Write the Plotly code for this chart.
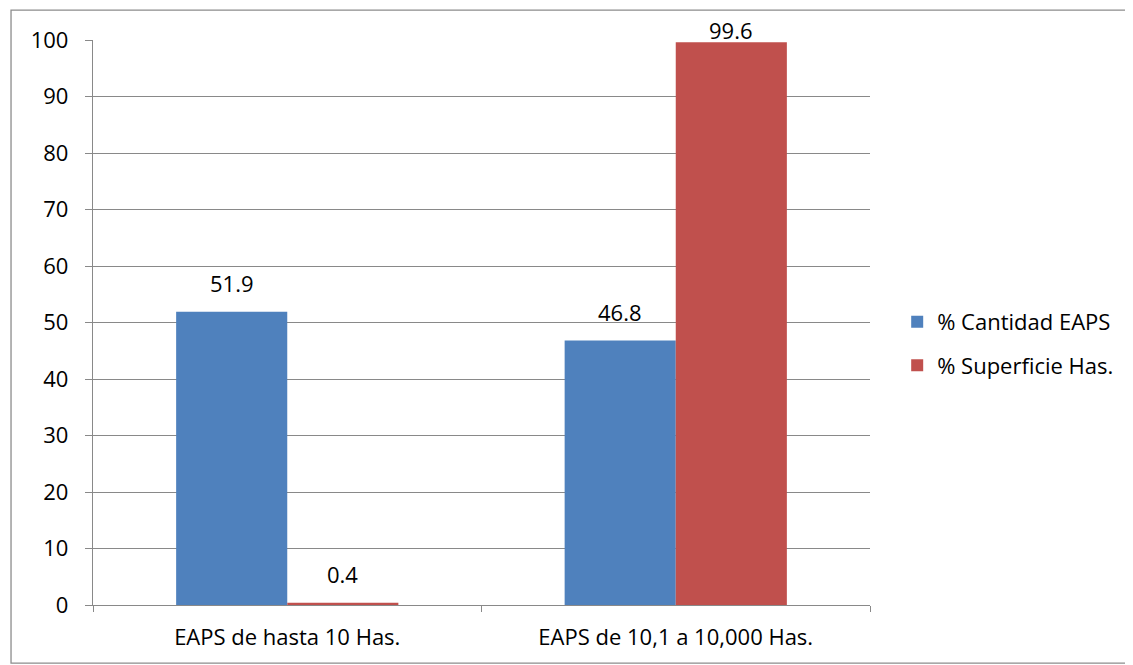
import plotly.graph_objects as go

categories = ["EAPS de hasta 10 Has.", "EAPS de 10,1 a 10,000 Has."]
cantidad = [51.9, 46.8]
superficie = [0.4, 99.6]
series_names = ["% Cantidad EAPS", "% Superficie Has."]
y_ticks = [0, 10, 20, 30, 40, 50, 60, 70, 80, 90, 100]

font_family = "Open Sans, Liberation Sans, sans-serif"
grid_col = "#898989"
colors = ["#4F81BD", "#C0504D"]

fig = go.Figure()
for i, (name, vals) in enumerate(zip(series_names, [cantidad, superficie])):
    fig.add_trace(go.Bar(x=categories, y=vals, name=name, legendgroup=name,
                         marker=dict(color=colors[i], line=dict(width=0))))
    # data labels
    for cat, v in zip(categories, vals):
        fig.add_annotation(x=cat, y=v, xref="x", yref="y",
                           text=f"{v:.1f}", showarrow=False,
                           xshift=(-55.5 if i == 0 else 55.5),
                           yanchor="bottom", yshift=(12 if v <= 90 else -5),
                           font=dict(size=22, color="black"))

fig.update_layout(
    width=1125, height=657,
    margin=dict(l=85, r=263, t=32, b=60),
    paper_bgcolor="white", plot_bgcolor="white",
    font=dict(family=font_family, size=22, color="black"),
    barmode="group", bargap=0.428, bargroupgap=0,
    showlegend=True,
    legend=dict(x=1.035, y=0.462, xanchor="left", yanchor="middle",
                font=dict(size=22), itemwidth=30, tracegroupgap=12,
                bgcolor="rgba(0,0,0,0)"),
)
fig.update_xaxes(showline=True, linecolor=grid_col, linewidth=1.3,
                 ticks="outside", tickson="boundaries", ticklen=6,
                 tickcolor=grid_col, tickfont=dict(size=22), showgrid=False,
                 ticklabelstandoff=12)
fig.update_yaxes(range=[0, 100], tickvals=y_ticks, showline=True,
                 linecolor=grid_col, linewidth=1.3, ticks="outside", ticklen=7,
                 tickcolor=grid_col, showgrid=True, gridcolor=grid_col,
                 gridwidth=1.3, zeroline=False, tickfont=dict(size=22),
                 ticklabelstandoff=12)

fig.add_shape(type="rect", xref="paper", yref="paper",
              x0=-0.1055, x1=1.3365, y0=-0.1027, y1=1.053,
              line=dict(color="#8c8c8c", width=1.3), fillcolor="rgba(0,0,0,0)")

fig.write_html("out.html")
